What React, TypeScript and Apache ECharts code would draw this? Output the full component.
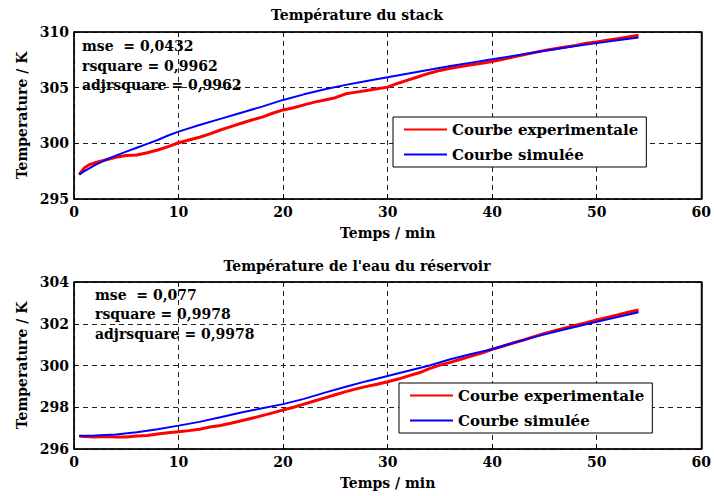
import React, { useEffect, useRef } from "react";
import * as echarts from "echarts";

// ---- Top plot: Température du stack ----
const stackExpTime = [0.5, 1, 1.5, 2, 3, 4, 5, 6, 7, 8, 9, 10, 11, 12, 13, 14, 15, 16, 17, 18, 19, 20, 21, 22, 23, 24, 25, 26, 27, 28, 29, 30, 31, 32, 33, 34, 35, 36, 37, 38, 39, 40, 41, 42, 43, 44, 45, 46, 47, 48, 49, 50, 51, 52, 53, 54];
const stackExp = [297.2, 297.8, 298.1, 298.25, 298.5, 298.75, 298.9, 298.95, 299.15, 299.4, 299.7, 300.05, 300.3, 300.55, 300.85, 301.2, 301.5, 301.8, 302.1, 302.35, 302.7, 303.0, 303.2, 303.45, 303.7, 303.9, 304.1, 304.45, 304.6, 304.75, 304.9, 305.05, 305.4, 305.7, 306.0, 306.3, 306.55, 306.75, 306.9, 307.05, 307.2, 307.35, 307.55, 307.75, 307.95, 308.15, 308.35, 308.5, 308.65, 308.8, 309.0, 309.1, 309.25, 309.4, 309.55, 309.7];
const stackSimTime = [0.5, 1, 2, 3, 4, 5, 6, 7, 8, 9, 10, 12, 14, 16, 18, 20, 22, 24, 26, 28, 30, 32, 34, 36, 38, 40, 42, 44, 46, 48, 50, 52, 54];
const stackSim = [297.2, 297.5, 298.05, 298.5, 298.9, 299.25, 299.6, 299.95, 300.3, 300.7, 301.05, 301.65, 302.2, 302.75, 303.3, 303.9, 304.4, 304.85, 305.25, 305.6, 305.93, 306.27, 306.6, 306.95, 307.25, 307.55, 307.85, 308.15, 308.45, 308.75, 309.0, 309.25, 309.5];

// ---- Bottom plot: Température de l'eau du réservoir ----
const waterExpTime = [0.5, 1, 2, 3, 4, 5, 6, 7, 8, 9, 10, 11, 12, 13, 14, 15, 16, 17, 18, 19, 20, 21, 22, 23, 24, 25, 26, 27, 28, 29, 30, 31, 32, 33, 34, 35, 36, 37, 38, 39, 40, 41, 42, 43, 44, 45, 46, 47, 48, 49, 50, 51, 52, 53, 54];
const waterExp = [296.62, 296.6, 296.58, 296.6, 296.57, 296.58, 296.62, 296.65, 296.72, 296.78, 296.83, 296.88, 296.95, 297.05, 297.13, 297.23, 297.35, 297.47, 297.6, 297.73, 297.87, 298.0, 298.15, 298.3, 298.45, 298.6, 298.75, 298.88, 299.0, 299.1, 299.22, 299.35, 299.5, 299.65, 299.85, 300.02, 300.15, 300.3, 300.45, 300.6, 300.78, 300.92, 301.08, 301.22, 301.38, 301.54, 301.67, 301.8, 301.93, 302.05, 302.18, 302.3, 302.42, 302.55, 302.66];
const waterSimTime = [0.5, 2, 4, 6, 8, 10, 12, 14, 16, 18, 20, 22, 24, 26, 28, 30, 32, 34, 36, 38, 40, 42, 44, 46, 48, 50, 52, 54];
const waterSim = [296.62, 296.65, 296.7, 296.8, 296.95, 297.12, 297.3, 297.52, 297.75, 297.95, 298.15, 298.4, 298.7, 298.98, 299.25, 299.5, 299.75, 300.0, 300.3, 300.55, 300.78, 301.08, 301.36, 301.62, 301.86, 302.1, 302.32, 302.55];

const titles = ["Température du stack", "Température de l'eau du réservoir"];
const seriesNames = ["Courbe experimentale", "Courbe simulée"];
const stackStats = ["mse  = 0,0432", "rsquare = 0,9962", "adjrsquare = 0,9962"];
const waterStats = ["mse  = 0,077", "rsquare = 0,9978", "adjrsquare = 0,9978"];
const xLabel = "Temps / min";
const yLabel = "Temperature / K";

const FONT = "DejaVu Serif";

const zip = (xs: number[], ys: number[]) => xs.map((x, i) => [x, ys[i]]);

export default function App() {
  const ref = useRef<HTMLDivElement>(null);
  useEffect(() => {
    document.body.style.margin = "0";
    const chart = echarts.init(ref.current!, null, { renderer: "svg" });

    const xAxisCfg = (gridIndex: number) => ({
      type: "value",
      gridIndex,
      min: 0,
      max: 60,
      interval: 10,
      name: xLabel,
      nameLocation: "middle",
      nameGap: 27,
      nameTextStyle: { fontFamily: FONT, fontWeight: "bold", fontSize: 14, color: "#000" },
      axisLine: { onZero: false, lineStyle: { color: "#000", width: 1.5 } },
      axisTick: { inside: true, length: 5, lineStyle: { color: "#000" } },
      axisLabel: { fontFamily: FONT, fontWeight: "bold", fontSize: 14, color: "#000", margin: 6 },
      splitLine: { show: true, lineStyle: { color: "#222", type: [5, 4], width: 1 } },
    });
    const xAxisTop = (gridIndex: number) => ({
      type: "value",
      gridIndex,
      position: "top",
      min: 0,
      max: 60,
      interval: 10,
      axisLine: { onZero: false, lineStyle: { color: "#000", width: 1.5 } },
      axisTick: { inside: true, length: 4, lineStyle: { color: "#000" } },
      axisLabel: { show: false },
      splitLine: { show: false },
    });
    const yAxisCfg = (gridIndex: number, min: number, max: number, interval: number) => ({
      type: "value",
      gridIndex,
      min,
      max,
      interval,
      name: yLabel,
      nameLocation: "middle",
      nameGap: 45,
      nameRotate: 90,
      nameTextStyle: { fontFamily: FONT, fontWeight: "bold", fontSize: 14, color: "#000" },
      axisLine: { onZero: false, lineStyle: { color: "#000", width: 1.5 } },
      axisTick: { inside: true, length: 5, lineStyle: { color: "#000" } },
      axisLabel: { fontFamily: FONT, fontWeight: "bold", fontSize: 14, color: "#000", margin: 5 },
      splitLine: { show: true, lineStyle: { color: "#222", type: [5, 4], width: 1 } },
    });
    const yAxisRight = (gridIndex: number, min: number, max: number, interval: number) => ({
      type: "value",
      gridIndex,
      position: "right",
      min,
      max,
      interval,
      axisLine: { onZero: false, lineStyle: { color: "#000", width: 1.5 } },
      axisTick: { inside: true, length: 4, lineStyle: { color: "#000" } },
      axisLabel: { show: false },
      splitLine: { show: false },
    });

    const statText = (lines: string[], x: number, ys: number[]) =>
      lines.map((t, i) => ({
        type: "text",
        left: x,
        top: ys[i] - 8,
        z: 10,
        style: { text: t, fontFamily: FONT, fontWeight: "bold", fontSize: 14, fill: "#000" },
      }));

    const legendCfg = (left: number, top: number) => ({
      left,
      top,
      orient: "vertical",
      data: seriesNames,
      backgroundColor: "#fff",
      borderColor: "#000",
      borderWidth: 1,
      borderRadius: 0,
      padding: [5, 8, 5, 10],
      itemWidth: 43,
      itemHeight: 14,
      itemGap: 10,
      selectedMode: false,
      itemStyle: { opacity: 0 },
      lineStyle: { width: 2 },
      textStyle: { fontFamily: FONT, fontWeight: "bold", fontSize: 15, color: "#000" },
    });

    const lineSeries = (name: string, data: number[][], color: string, width: number, idx: number) => ({
      type: "line",
      name,
      data,
      xAxisIndex: idx,
      yAxisIndex: idx,
      symbol: "none",
      smooth: false,
      lineStyle: { color, width },
      itemStyle: { color },
    });

    chart.setOption({
      animation: false,
      backgroundColor: "#fff",
      title: [
        { text: titles[0], left: "center", top: 3, textStyle: { fontFamily: FONT, fontWeight: "bold", fontSize: 14, color: "#000" } },
        { text: titles[1], left: "center", top: 254, textStyle: { fontFamily: FONT, fontWeight: "bold", fontSize: 14, color: "#000" } },
      ],
      grid: [
        { left: 74, top: 32, width: 631, height: 167, show: true, borderColor: "#000", borderWidth: 1, backgroundColor: "transparent" },
        { left: 74, top: 282, width: 631, height: 167, show: true, borderColor: "#000", borderWidth: 1, backgroundColor: "transparent" },
      ],
      xAxis: [xAxisCfg(0), xAxisCfg(1), xAxisTop(0), xAxisTop(1)],
      yAxis: [yAxisCfg(0, 295, 310, 5), yAxisCfg(1, 296, 304, 2), yAxisRight(0, 295, 310, 5), yAxisRight(1, 296, 304, 2)],
      legend: [legendCfg(393, 117), legendCfg(399, 383)],
      graphic: [
        ...statText(stackStats, 82, [47, 67, 86]),
        ...statText(waterStats, 95, [296, 315, 335]),
      ],
      series: [
        lineSeries(seriesNames[0], zip(stackExpTime, stackExp), "#ff0000", 3, 0),
        lineSeries(seriesNames[1], zip(stackSimTime, stackSim), "#0000ff", 2, 0),
        lineSeries(seriesNames[0], zip(waterExpTime, waterExp), "#ff0000", 3, 1),
        lineSeries(seriesNames[1], zip(waterSimTime, waterSim), "#0000ff", 2, 1),
      ],
    });
    return () => chart.dispose();
  }, []);
  return <div ref={ref} style={{ position: "absolute", left: 0, top: 0, width: 714, height: 496, background: "#fff" }} />;
}
